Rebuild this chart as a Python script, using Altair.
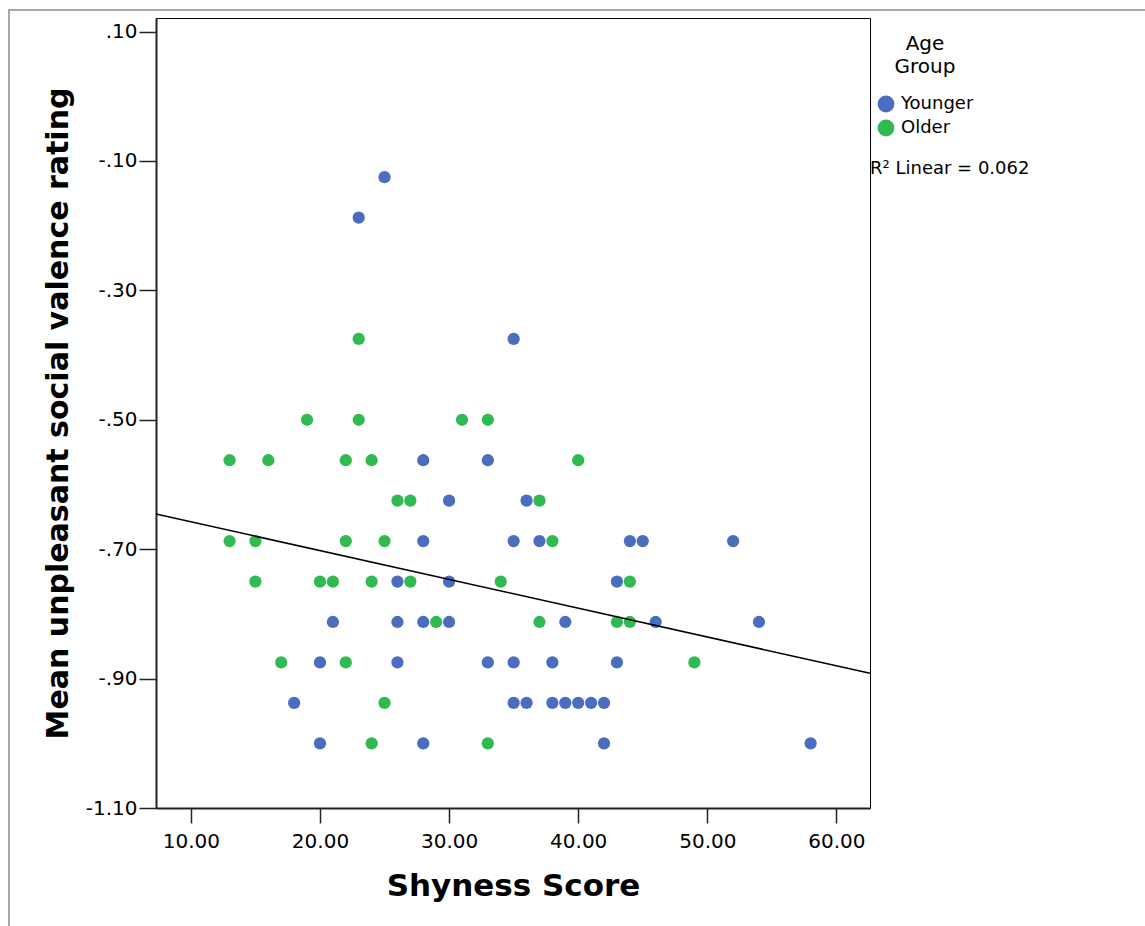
import altair as alt
import pandas as pd

# ---- data ----
rating_levels = [-0.125, -0.1875, -0.375, -0.5, -0.5625, -0.625, -0.6875, -0.75, -0.8125, -0.875, -0.9375, -1.0]
shyness_rows = [
    [25],
    [23],
    [23, 35],
    [19, 23, 31, 33],
    [13, 16, 22, 24, 28, 33, 40],
    [26, 27, 30, 36, 37],
    [13, 15, 22, 25, 28, 35, 37, 38, 44, 45, 52],
    [15, 20, 21, 24, 26, 27, 30, 34, 43, 44],
    [21, 26, 28, 29, 30, 37, 39, 43, 44, 46, 54],
    [17, 20, 22, 26, 33, 35, 38, 43, 49],
    [18, 25, 35, 36, 38, 39, 40, 41, 42],
    [20, 24, 28, 33, 42, 58],
]
group_rows = [
    ["Younger"],
    ["Younger"],
    ["Older", "Younger"],
    ["Older", "Older", "Older", "Older"],
    ["Older", "Older", "Older", "Older", "Younger", "Younger", "Older"],
    ["Older", "Older", "Younger", "Younger", "Older"],
    ["Older", "Older", "Older", "Older", "Younger", "Younger", "Younger", "Older", "Younger", "Younger", "Younger"],
    ["Older", "Older", "Older", "Older", "Younger", "Older", "Younger", "Older", "Younger", "Older"],
    ["Younger", "Younger", "Younger", "Older", "Younger", "Older", "Younger", "Older", "Older", "Younger", "Younger"],
    ["Older", "Younger", "Older", "Younger", "Younger", "Younger", "Younger", "Younger", "Older"],
    ["Younger", "Older", "Younger", "Younger", "Younger", "Younger", "Younger", "Younger", "Younger"],
    ["Younger", "Older", "Younger", "Older", "Younger", "Younger"],
]
groups = ["Younger", "Older"]
group_colors = ["#4a6dc0", "#30ba52"]
r2_label = "R² Linear = 0.062"
# fitted line (total sample) as drawn in the reference, at the plot edges
fit_x = [7.3, 62.6]
fit_y = [-0.6456, -0.8918]
x_ticks = [10, 20, 30, 40, 50, 60]
y_ticks = [0.10, -0.10, -0.30, -0.50, -0.70, -0.90, -1.10]
x_domain = [7.3, 62.6]
y_domain = [-1.10, 0.121]

rows = []
for lvl, xs, gs in zip(rating_levels, shyness_rows, group_rows):
    for xv, g in zip(xs, gs):
        rows.append({"shyness": xv, "rating": lvl, "group": g})
df = pd.DataFrame(rows)
fit_df = pd.DataFrame({"shyness": fit_x, "rating": fit_y})

FONT = "DejaVu Sans"
W, H = 714, 790
PAD_L, PAD_T = 156, 18

xscale = alt.Scale(domain=x_domain, nice=False, zero=False)
yscale = alt.Scale(domain=y_domain, nice=False, zero=False)

x_axis = alt.Axis(
    values=x_ticks, format=".2f", title="Shyness Score", grid=False,
    tickSize=15, labelPadding=8, labelFontSize=20, labelFont=FONT, labelColor="black",
    titleFont=FONT, titleFontSize=31, titleFontWeight="bold", titleColor="black",
    titlePadding=20, domainColor="#222", domainWidth=2, tickColor="#222", tickWidth=1.5,
)
y_axis = alt.Axis(
    values=y_ticks,
    labelExpr="replace(replace(format(datum.value, '.2f'), '\u2212', '-'), '0.', '.')",
    title="Mean unpleasant social valence rating", grid=False,
    tickSize=17, labelPadding=2, labelFontSize=20, labelFont=FONT, labelColor="black",
    titleFont=FONT, titleFontSize=30, titleFontWeight="bold", titleColor="black",
    titlePadding=12, domainColor="#222", domainWidth=2, tickColor="#222", tickWidth=1.5,
)

points = alt.Chart(df).mark_circle(size=150, opacity=1).encode(
    x=alt.X("shyness:Q", scale=xscale, axis=x_axis),
    y=alt.Y("rating:Q", scale=yscale, axis=y_axis),
    color=alt.Color(
        "group:N",
        scale=alt.Scale(domain=groups, range=group_colors),
        legend=alt.Legend(
            title=["Age", "Group"], orient="none", legendX=721, legendY=16,
            titleAnchor="middle", titleFont=FONT, titleFontSize=20, titleFontWeight="normal",
            titleColor="black", titleLineHeight=23, titlePadding=18,
            labelFont=FONT, labelFontSize=18, labelColor="black", labelOffset=6,
            symbolType="circle", symbolSize=283, symbolStrokeWidth=0, symbolOpacity=1,
            rowPadding=6, padding=0,
        ),
    ),
)

fit = alt.Chart(fit_df).mark_line(color="black", strokeWidth=1.5).encode(
    x=alt.X("shyness:Q", scale=xscale),
    y=alt.Y("rating:Q", scale=yscale),
)

note = alt.Chart(pd.DataFrame({"label": [r2_label]})).mark_text(
    align="left", baseline="alphabetic", font=FONT, fontSize=18, color="black"
).encode(x=alt.value(W), y=alt.value(156), text="label:N")

frame = alt.Chart(pd.DataFrame({"k": [0]})).mark_rect(
    fill=None, stroke="#a8a8a8", strokeWidth=2
).encode(
    x=alt.value(9 - PAD_L), y=alt.value(10 - PAD_T),
    x2=alt.value(1160 - PAD_L), y2=alt.value(940 - PAD_T),
)

chart = alt.layer(frame, points, fit, note).properties(
    width=W, height=H,
    padding={"left": PAD_L, "top": PAD_T, "right": 1145 - PAD_L - W, "bottom": 926 - PAD_T - H},
    autosize=alt.AutoSizeParams(type="none"),
    background="white",
).configure_view(stroke="black", strokeWidth=1)

chart.save("out.html", embed_options={"renderer": "svg", "actions": False})
